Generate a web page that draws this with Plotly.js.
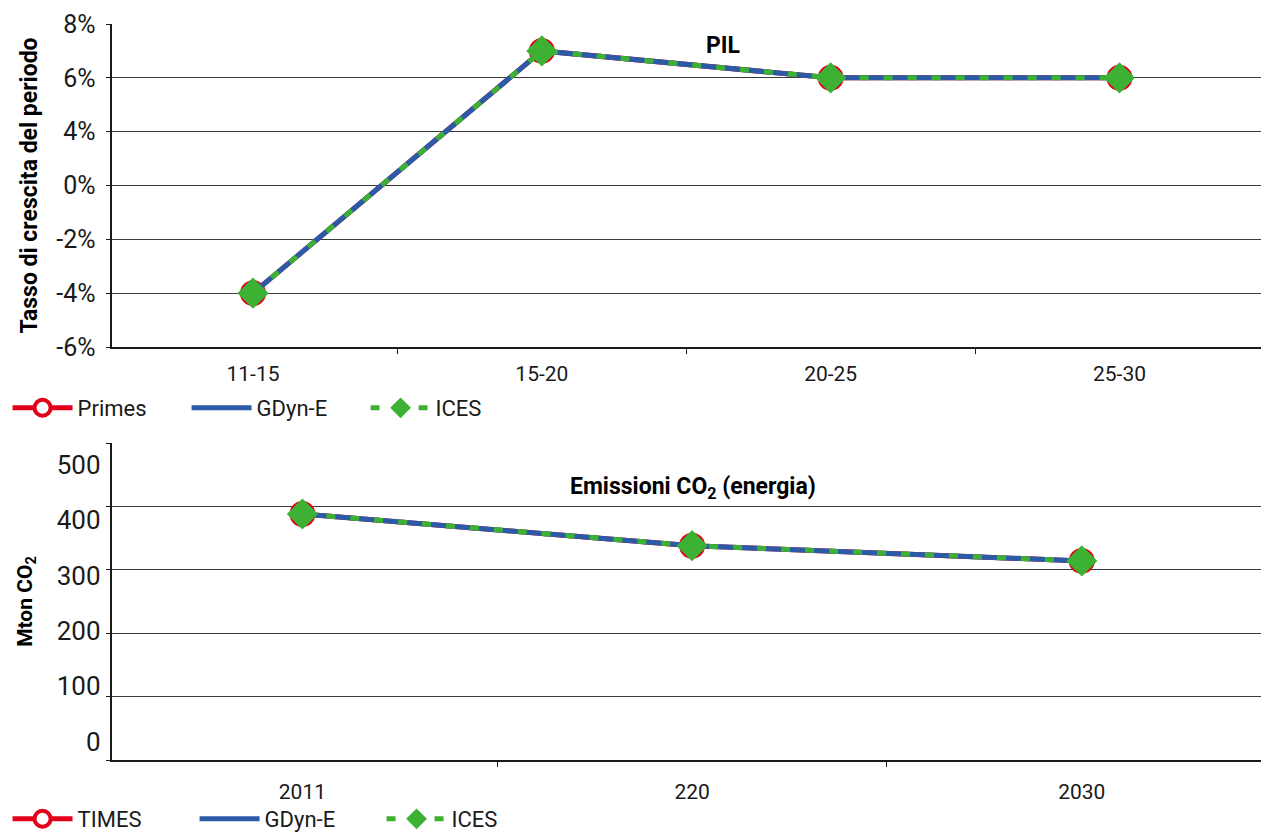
<!DOCTYPE html>
<html>
<head>
<meta charset="utf-8">
<script src="https://cdn.plot.ly/plotly-3.0.1.min.js"></script>
<style>html,body{margin:0;padding:0;background:#fff;}#chart{width:1261px;height:834px;}</style>
</head>
<body>
<div id="chart"></div>
<script>
// ---- Top panel: PIL (values on the axis' position scale; tick text as printed) ----
const pilCategories = ['11-15', '15-20', '20-25', '25-30'];
const pilPrimes = [-4, 5, 4, 4];
const pilGDyn = [-4, 5, 4, 4];
const pilICES = [-4, 5, 4, 4];
const pilTickVals = [-6, -4, -2, 0, 2, 4, 6];
const pilTickText = ['-6%', '-4%', '-2%', '0%', '4%', '6%', '8%'];

// ---- Bottom panel: Emissioni CO2 (energia) ----
const co2Categories = ['2011', '220', '2030'];
const co2Times = [388, 338, 314];
const co2GDyn = [388, 338, 314];
const co2ICES = [388, 338, 314];
const co2TickVals = [0, 100, 200, 300, 400, 500];
const co2TickText = ['0', '100', '200', '300', '400', '500'];

const RED = '#e2001a', BLUE = '#2b5aa6', GREEN = '#3db134';
const FONT = 'Roboto, "DejaVu Sans", sans-serif';

function series(x, y, name, kind, xa, ya, legend) {
  if (kind === 'red') {
    return {x, y, name, xaxis: xa, yaxis: ya, legend, type: 'scatter', mode: 'lines+markers',
      line: {color: RED, width: 5},
      marker: {symbol: 'circle', size: 22, color: '#ffffff', line: {color: RED, width: 4}}};
  }
  if (kind === 'blue') {
    return {x, y, name, xaxis: xa, yaxis: ya, legend, type: 'scatter', mode: 'lines',
      line: {color: BLUE, width: 5}};
  }
  return {x, y, name, xaxis: xa, yaxis: ya, legend, type: 'scatter', mode: 'lines+markers',
    line: {color: GREEN, width: 5, dash: '9px,15px'},
    marker: {symbol: 'diamond', size: 24, color: GREEN}};
}

const data = [
  series(pilCategories, pilPrimes, 'Primes', 'red', 'x', 'y', 'legend'),
  series(pilCategories, pilGDyn, 'GDyn-E', 'blue', 'x', 'y', 'legend'),
  series(pilCategories, pilICES, 'ICES', 'green', 'x', 'y', 'legend'),
  series(co2Categories, co2Times, 'TIMES', 'red', 'x2', 'y2', 'legend2'),
  series(co2Categories, co2GDyn, 'GDyn-E', 'blue', 'x2', 'y2', 'legend2'),
  series(co2Categories, co2ICES, 'ICES', 'green', 'x2', 'y2', 'legend2'),
  // carrier for the offset tick-label axis of the bottom panel (draws nothing)
  {x: co2Categories, y: co2Times, xaxis: 'x2', yaxis: 'y3', type: 'scatter', mode: 'none',
   showlegend: false, hoverinfo: 'skip'}
];

const xDom = [111.5 / 1261, 1];
const layout = {
  width: 1261, height: 834,
  margin: {l: 0, r: 0, t: 0, b: 0, autoexpand: false},
  paper_bgcolor: '#ffffff', plot_bgcolor: '#ffffff',
  font: {family: FONT, color: '#1a1a1a'},
  showlegend: true,
  xaxis: {
    domain: xDom, anchor: 'y', type: 'category', range: [-0.49, 3.49],
    showgrid: false, showline: true, linecolor: '#1a1a1a', linewidth: 2,
    ticks: 'outside', tickson: 'boundaries', ticklen: 5, tickcolor: '#1a1a1a', tickwidth: 1,
    tickfont: {size: 21, family: FONT, color: '#1a1a1a'}, zeroline: false,
    ticklabelstandoff: 7
  },
  yaxis: {
    domain: [1 - 347 / 834, 1 - 24 / 834], anchor: 'x', range: [-6, 6],
    tickvals: pilTickVals, ticktext: pilTickText,
    showgrid: true, gridcolor: '#3a3a3a', gridwidth: 1,
    showline: true, linecolor: '#1a1a1a', linewidth: 2, zeroline: false,
    ticks: 'outside', ticklen: 4, tickcolor: '#1a1a1a', tickwidth: 1,
    tickfont: {size: 25, family: FONT, color: '#1a1a1a'},
    ticklabelstandoff: 5,
    title: {text: 'Tasso di crescita del periodo', font: {size: 23, family: FONT, color: '#000', weight: 'bold'}, standoff: 12}
  },
  xaxis2: {
    domain: xDom, anchor: 'y2', type: 'category', range: [-0.49, 2.46],
    showgrid: false, showline: true, linecolor: '#1a1a1a', linewidth: 2,
    ticks: 'outside', tickson: 'boundaries', ticklen: 5, tickcolor: '#1a1a1a', tickwidth: 1,
    tickfont: {size: 21, family: FONT, color: '#1a1a1a'}, zeroline: false,
    ticklabelstandoff: 12
  },
  yaxis2: {
    domain: [1 - 760 / 834, 1 - 443 / 834], anchor: 'x2', range: [0, 500],
    tickvals: co2TickVals, showticklabels: false,
    showgrid: true, gridcolor: '#3a3a3a', gridwidth: 1,
    showline: true, linecolor: '#1a1a1a', linewidth: 2, zeroline: false,
    ticks: 'outside', ticklen: 4, tickcolor: '#1a1a1a', tickwidth: 1
  },
  yaxis3: {
    overlaying: 'y2', anchor: 'x2', side: 'left', range: [-33, 539],
    tickvals: co2TickVals, ticktext: co2TickText,
    showgrid: false, showline: false, zeroline: false, ticks: '',
    tickfont: {size: 26, family: FONT, color: '#1a1a1a'},
    ticklabelstandoff: 10,
    title: {text: 'Mton CO<sub>2</sub>', font: {size: 21, family: FONT, color: '#000', weight: 'bold'}, standoff: 18}
  },
  legend: {
    orientation: 'h', x: 0.006, xanchor: 'left', y: 1 - 408 / 834, yanchor: 'middle',
    font: {size: 22, family: FONT, color: '#1a1a1a'}, entrywidth: 104, itemwidth: 60,
    bgcolor: 'rgba(0,0,0,0)', traceorder: 'normal'
  },
  legend2: {
    orientation: 'h', x: 0.006, xanchor: 'left', y: 1 - 819 / 834, yanchor: 'middle',
    font: {size: 22, family: FONT, color: '#1a1a1a'}, entrywidth: 112, itemwidth: 60,
    bgcolor: 'rgba(0,0,0,0)', traceorder: 'normal'
  },
  annotations: [
    {text: '<b>PIL</b>', xref: 'paper', yref: 'paper', x: 723 / 1261, y: 1 - 45 / 834,
     xanchor: 'center', yanchor: 'middle', showarrow: false, font: {size: 23, family: FONT, color: '#000'}},
    {text: '<b>Emissioni CO<sub>2</sub> (energia)</b>', xref: 'paper', yref: 'paper', x: 693 / 1261, y: 1 - 488 / 834,
     xanchor: 'center', yanchor: 'middle', showarrow: false, font: {size: 23, family: FONT, color: '#000'}}
  ]
};

Plotly.newPlot('chart', data, layout, {displayModeBar: false, staticPlot: true});
</script>
</body>
</html>
